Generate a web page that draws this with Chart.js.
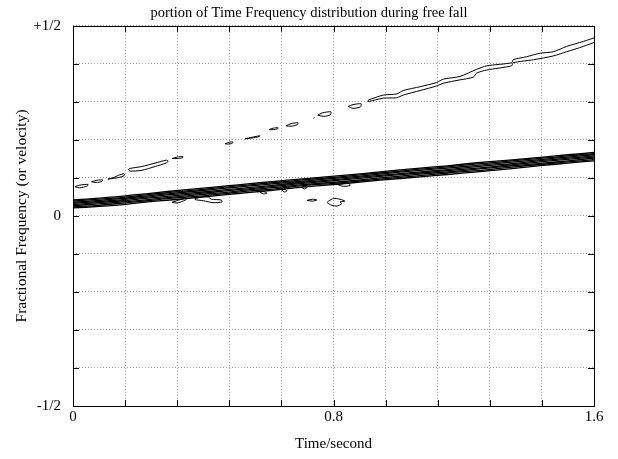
<!DOCTYPE html>
<html>
<head>
<meta charset="utf-8">
<script src="https://cdn.jsdelivr.net/npm/chart.js@4"></script>
<style>
  html, body { margin: 0; padding: 0; background: #fff; }
</style>
</head>
<body>
<canvas id="canvas" width="618" height="459"></canvas>
<script>
// grid / tick labels
const xGrid = [0, 0.16, 0.32, 0.48, 0.64, 0.8, 0.96, 1.12, 1.28, 1.44, 1.6];
const xTickLabels = ['0', '', '', '', '', '0.8', '', '', '', '', '1.6'];
const yGrid = [-0.5, -0.4, -0.3, -0.2, -0.1, 0, 0.1, 0.2, 0.3, 0.4, 0.5];
const yTickLabels = ['-1/2', '', '', '', '', '0', '', '', '', '', '+1/2'];

// main (fundamental) contour bundle, shared time samples
const bundleTime = [0, 0.08, 0.154, 0.23, 0.298, 0.399, 0.47, 0.544, 0.62, 0.697, 0.82, 0.943, 1.066, 1.15, 1.241, 1.34, 1.443, 1.52, 1.6];
const bundle1 = [0.021, 0.025, 0.030, 0.037, 0.042, 0.050, 0.056, 0.062, 0.068, 0.075, 0.084, 0.094, 0.103, 0.109, 0.116, 0.124, 0.133, 0.139, 0.145];
const bundle2 = [0.024, 0.028, 0.034, 0.040, 0.046, 0.053, 0.059, 0.066, 0.071, 0.079, 0.087, 0.097, 0.106, 0.113, 0.119, 0.128, 0.136, 0.142, 0.148];
const bundle3 = [0.027, 0.032, 0.037, 0.043, 0.049, 0.057, 0.062, 0.069, 0.075, 0.082, 0.090, 0.100, 0.110, 0.116, 0.123, 0.131, 0.139, 0.145, 0.152];
const bundle4 = [0.030, 0.035, 0.040, 0.047, 0.052, 0.060, 0.066, 0.072, 0.078, 0.085, 0.094, 0.104, 0.113, 0.119, 0.126, 0.134, 0.143, 0.149, 0.155];
const bundle5 = [0.033, 0.038, 0.043, 0.050, 0.056, 0.063, 0.069, 0.075, 0.081, 0.088, 0.097, 0.107, 0.116, 0.122, 0.130, 0.137, 0.146, 0.152, 0.158];
const bundle6 = [0.036, 0.041, 0.046, 0.053, 0.059, 0.067, 0.073, 0.079, 0.085, 0.091, 0.100, 0.110, 0.120, 0.126, 0.133, 0.141, 0.149, 0.155, 0.161];
const bundle7 = [0.039, 0.044, 0.049, 0.056, 0.062, 0.070, 0.076, 0.082, 0.088, 0.094, 0.103, 0.113, 0.123, 0.129, 0.137, 0.144, 0.152, 0.158, 0.164];
const bundle8 = [0.042, 0.047, 0.052, 0.059, 0.065, 0.073, 0.079, 0.085, 0.091, 0.097, 0.106, 0.116, 0.126, 0.132, 0.140, 0.147, 0.155, 0.161, 0.167];

// small loops hanging under the bundle  [time, freq]
const lowLoop1 = [[0.304,0.036],[0.33,0.043],[0.350,0.047],[0.345,0.042],[0.32,0.034],[0.304,0.036]];
const lowLoop2 = [[0.375,0.046],[0.40,0.050],[0.415,0.050],[0.425,0.044],[0.455,0.042],[0.458,0.037],[0.43,0.035],[0.40,0.040],[0.375,0.043],[0.375,0.046]];
const lowLoop3 = [[0.574,0.062],[0.585,0.058],[0.596,0.060],[0.585,0.064],[0.574,0.062]];
const lowLoop4 = [[0.641,0.068],[0.650,0.063],[0.657,0.066],[0.650,0.070],[0.641,0.068]];
const lowLoop5 = [[0.702,0.075],[0.710,0.071],[0.718,0.074],[0.710,0.078],[0.702,0.075]];
const lowLoop6 = [[0.811,0.083],[0.83,0.078],[0.851,0.080],[0.848,0.085],[0.83,0.085],[0.811,0.083]];
const islandA = [[0.719,0.041],[0.735,0.044],[0.749,0.042],[0.735,0.039],[0.719,0.041]];
const islandB = [[0.784,0.039],[0.800,0.046],[0.820,0.044],[0.835,0.039],[0.820,0.037],[0.825,0.032],[0.810,0.026],[0.795,0.028],[0.781,0.035],[0.784,0.039]];

// upper (harmonic) contour pieces
const upper1 = [[0.006,0.077],[0.02,0.081],[0.046,0.083],[0.044,0.079],[0.02,0.074],[0.006,0.077]];
const upper2 = [[0.057,0.090],[0.075,0.094],[0.091,0.095],[0.089,0.091],[0.072,0.088],[0.057,0.090]];
const upper3 = [[0.107,0.097],[0.125,0.101],[0.14,0.107],[0.157,0.111],[0.157,0.106],[0.14,0.101],[0.125,0.099],[0.107,0.097]];
const upper4 = [[0.170,0.122],[0.175,0.125],[0.211,0.130],[0.252,0.139],[0.288,0.147],[0.292,0.144],[0.288,0.140],[0.252,0.130],[0.211,0.120],[0.175,0.118],[0.170,0.122]];
const upper5 = [[0.304,0.151],[0.32,0.155],[0.338,0.156],[0.336,0.153],[0.32,0.151],[0.304,0.151]];
const upper6 = [[0.467,0.190],[0.48,0.194],[0.491,0.195],[0.489,0.191],[0.475,0.189],[0.467,0.190]];
const upper7 = [[0.528,0.203],[0.55,0.207],[0.574,0.211],[0.572,0.209],[0.55,0.205],[0.528,0.203]];
const upper8 = [[0.602,0.227],[0.615,0.231],[0.630,0.232],[0.628,0.229],[0.615,0.227],[0.602,0.227]];
const upper9 = [[0.654,0.237],[0.67,0.243],[0.691,0.245],[0.689,0.240],[0.67,0.236],[0.654,0.237]];
const upperDot = [[0.739,0.257],[0.742,0.259]];
const upper10 = [[0.752,0.265],[0.765,0.271],[0.792,0.274],[0.790,0.266],[0.770,0.262],[0.752,0.265]];
const upper11 = [[0.845,0.288],[0.86,0.293],[0.885,0.295],[0.883,0.287],[0.86,0.283],[0.845,0.288]];
const upperBandTop = [[0.907,0.305],[0.953,0.318],[0.994,0.321],[1.014,0.330],[1.066,0.340],[1.117,0.351],[1.137,0.360],[1.188,0.367],[1.240,0.386],[1.271,0.395],[1.347,0.403],[1.352,0.411],[1.393,0.419],[1.434,0.428],[1.475,0.432],[1.516,0.446],[1.567,0.459],[1.61,0.470]];
const upperBandBottom = [[0.907,0.301],[0.953,0.310],[0.994,0.311],[1.014,0.318],[1.066,0.330],[1.117,0.342],[1.137,0.349],[1.188,0.358],[1.229,0.365],[1.240,0.376],[1.271,0.384],[1.347,0.395],[1.352,0.403],[1.414,0.411],[1.475,0.421],[1.516,0.432],[1.567,0.446],[1.61,0.461]];

const pts = arr => arr.map(p => ({x: p[0], y: p[1]}));
const bundlePts = vals => vals.map((v, i) => ({x: bundleTime[i], y: v}));

const bundleCurves = [bundle1, bundle2, bundle3, bundle4, bundle5, bundle6, bundle7, bundle8].map(bundlePts);
const loopCurves = [
  lowLoop1, lowLoop2, lowLoop3, lowLoop4, lowLoop5, lowLoop6, islandA, islandB,
  upper1, upper2, upper3, upper4, upper5, upper6, upper7, upper8, upper9, upperDot, upper10, upper11,
  upperBandTop.concat(upperBandBottom.slice().reverse()).concat([upperBandTop[0]])
].map(pts);

const datasets = bundleCurves.map(d => ({
  data: d, borderColor: '#000', borderWidth: 1.3, pointRadius: 0, fill: false, tension: 0.25
})).concat(loopCurves.map(d => ({
  data: d, borderColor: '#000', borderWidth: 1, pointRadius: 0, fill: false, tension: 0.25
})));

const serif = 'Liberation Serif';

// frame and inward tick marks like the original plot
const framePlugin = {
  id: 'frame',
  afterDatasetsDraw(chart) {
    const {ctx, chartArea: a, scales: {x, y}} = chart;
    ctx.save();
    ctx.strokeStyle = '#000';
    ctx.lineWidth = 1;
    ctx.strokeRect(Math.round(a.left) + 0.5, Math.round(a.top) + 0.5, Math.round(a.right - a.left), Math.round(a.bottom - a.top));
    ctx.beginPath();
    xGrid.forEach(v => {
      const px = Math.round(x.getPixelForValue(v)) + 0.5;
      ctx.moveTo(px, a.bottom); ctx.lineTo(px, a.bottom - 6);
      ctx.moveTo(px, a.top); ctx.lineTo(px, a.top + 6);
    });
    yGrid.forEach(v => {
      const py = Math.round(y.getPixelForValue(v)) + 0.5;
      ctx.moveTo(a.left, py); ctx.lineTo(a.left + 6, py);
      ctx.moveTo(a.right, py); ctx.lineTo(a.right - 6, py);
    });
    ctx.stroke();
    ctx.restore();
  }
};

const config = {
  type: 'line',
  data: { datasets: datasets },
  options: {
    responsive: false,
    animation: false,
    events: [],
    layout: { padding: 0 },
    plugins: {
      legend: { display: false },
      tooltip: { enabled: false },
      title: {
        display: true,
        text: 'portion of Time Frequency distribution during free fall',
        color: '#000',
        font: { family: serif, size: 14.5, weight: 'normal' },
        padding: { top: 4, bottom: 4.5 }
      }
    },
    scales: {
      x: {
        type: 'linear',
        min: 0, max: 1.6,
        afterBuildTicks: s => { s.ticks = xGrid.map(v => ({value: v})); },
        afterFit: s => { s.height = 53; },
        ticks: {
          color: '#000', padding: 2, maxRotation: 0, autoSkip: false,
          font: { family: serif, size: 15 },
          callback: (v, i) => xTickLabels[i]
        },
        grid: { color: '#999', drawTicks: false },
        border: { display: false, dash: [1, 2] },
        title: {
          display: true, text: 'Time/second', color: '#000',
          font: { family: serif, size: 15 },
          padding: { top: 0, bottom: 6 }
        }
      },
      y: {
        type: 'linear',
        min: -0.5, max: 0.5,
        afterBuildTicks: s => { s.ticks = yGrid.map(v => ({value: v})); },
        afterFit: s => { s.width = 73; },
        ticks: {
          color: '#000', padding: 12, autoSkip: false,
          font: { family: serif, size: 15 },
          callback: (v, i) => yTickLabels[i]
        },
        grid: { color: '#999', drawTicks: false },
        border: { display: false, dash: [1, 2] },
        title: {
          display: true, text: 'Fractional Frequency (or velocity)', color: '#000',
          font: { family: serif, size: 15.5 },
          padding: { top: 13, bottom: 0 }
        }
      },
      // empty right-hand box so the plot ends where the original does
      yRight: {
        position: 'right',
        min: -0.5, max: 0.5,
        afterFit: s => { s.width = 24; },
        ticks: { display: false },
        grid: { display: false, drawOnChartArea: false },
        border: { display: false }
      }
    }
  },
  plugins: [framePlugin]
};

const canvas = document.getElementById('canvas');
const chart = new Chart(canvas, config);
</script>
</body>
</html>
